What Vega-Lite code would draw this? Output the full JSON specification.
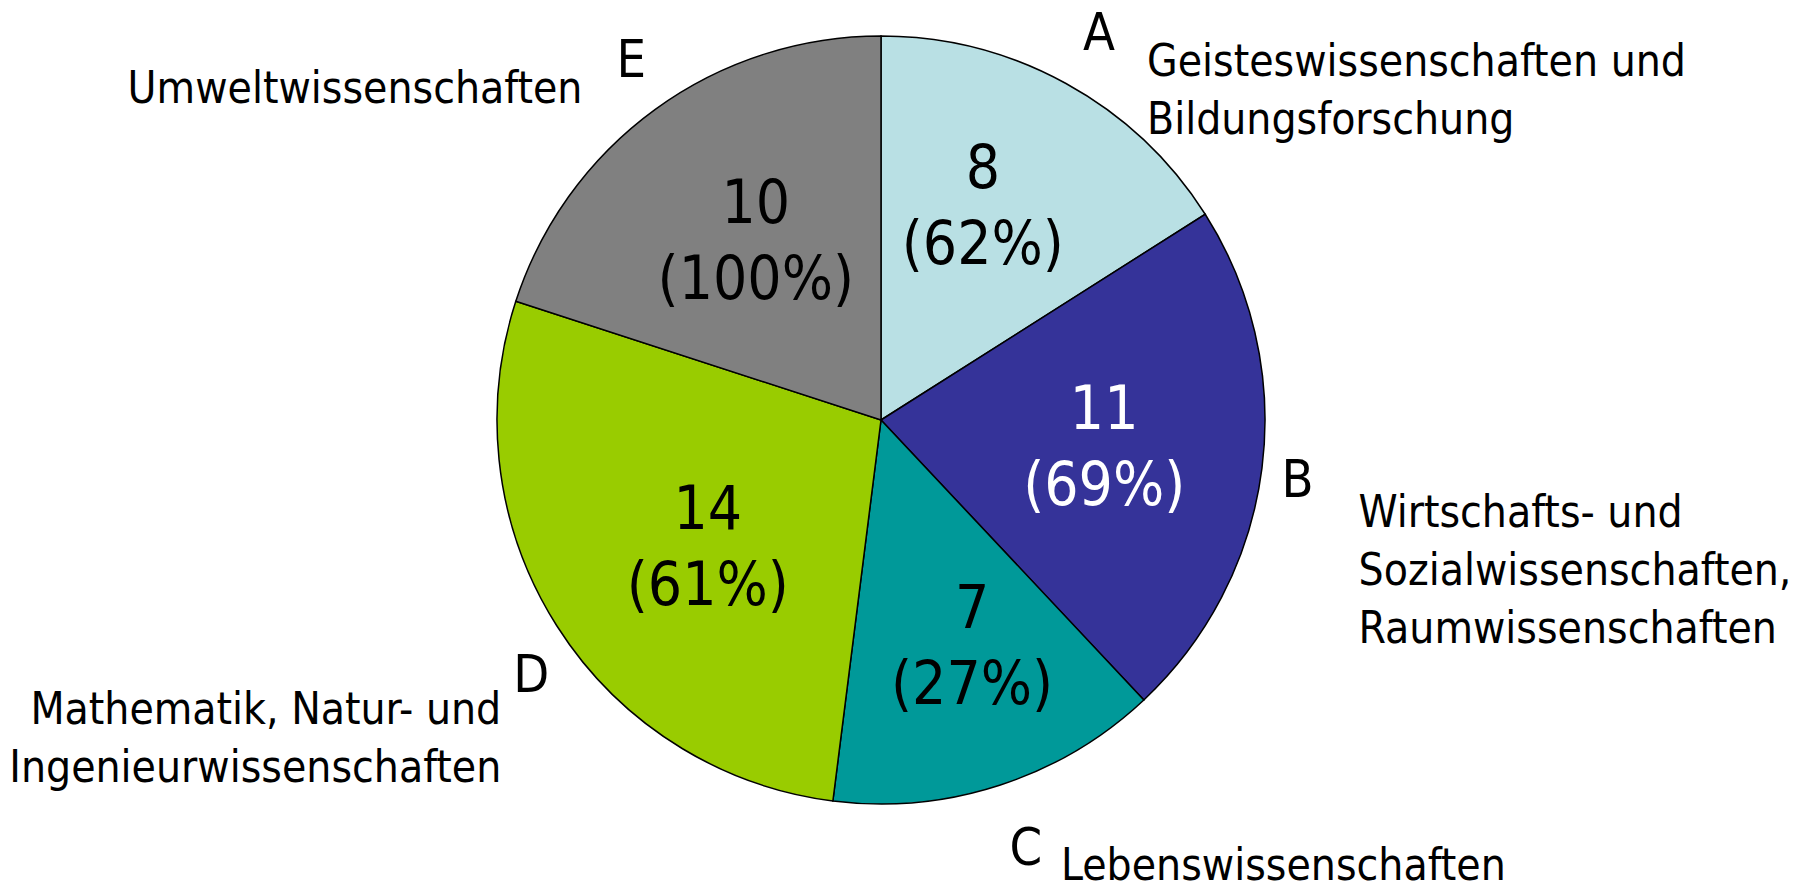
{
  "$schema": "https://vega.github.io/schema/vega-lite/v6.json",
  "autosize": {"type": "none"},
  "width": 1762,
  "height": 840,
  "padding": {"left": 0, "top": 0, "right": 41, "bottom": 51},
  "background": "white",
  "config": {"view": {"stroke": null}, "text": {"font": "DejaVu Sans Condensed, DejaVu Sans, sans-serif", "color": "black"}},
  "data": {"values": [
    {"cat": "A", "n": 8, "pct": "(62%)", "name": "Geisteswissenschaften und|Bildungsforschung"},
    {"cat": "B", "n": 11, "pct": "(69%)", "name": "Wirtschafts- und|Sozialwissenschaften,|Raumwissenschaften"},
    {"cat": "C", "n": 7, "pct": "(27%)", "name": "Lebenswissenschaften"},
    {"cat": "D", "n": 14, "pct": "(61%)", "name": "Mathematik, Natur- und|Ingenieurwissenschaften"},
    {"cat": "E", "n": 10, "pct": "(100%)", "name": "Umweltwissenschaften"}
  ]},
  "encoding": {
    "theta": {"field": "n", "type": "quantitative", "stack": true},
    "order": {"field": "cat", "type": "nominal", "sort": "ascending"},
    "detail": {"field": "cat", "type": "nominal"}
  },
  "layer": [
    {
      "mark": {"type": "arc", "outerRadius": 384, "stroke": "black", "strokeWidth": 1.5},
      "encoding": {
        "color": {"field": "cat", "type": "nominal", "legend": null,
          "scale": {"domain": ["A", "B", "C", "D", "E"], "range": ["#B9E0E4", "#353399", "#009999", "#99CC00", "#808080"]}}
      }
    },
    {"mark": {"type": "text", "radius": 230, "dx": -9, "dy": -48, "fontSize": 60},
     "encoding": {"text": {"condition": {"test": "datum.cat === 'A'", "field": "n", "type": "quantitative"}, "value": ""}}},
    {"mark": {"type": "text", "radius": 230, "dx": -9, "dy": 28, "fontSize": 60},
     "encoding": {"text": {"condition": {"test": "datum.cat === 'A'", "field": "pct"}, "value": ""}}},
    {"mark": {"type": "text", "radius": 230, "dx": -5, "dy": -38, "fontSize": 60, "color": "white"},
     "encoding": {"text": {"condition": {"test": "datum.cat === 'B'", "field": "n", "type": "quantitative"}, "value": ""}}},
    {"mark": {"type": "text", "radius": 230, "dx": -5, "dy": 38, "fontSize": 60, "color": "white"},
     "encoding": {"text": {"condition": {"test": "datum.cat === 'B'", "field": "pct"}, "value": ""}}},
    {"mark": {"type": "text", "radius": 230, "dx": 20, "dy": -29, "fontSize": 60},
     "encoding": {"text": {"condition": {"test": "datum.cat === 'C'", "field": "n", "type": "quantitative"}, "value": ""}}},
    {"mark": {"type": "text", "radius": 230, "dx": 20, "dy": 47, "fontSize": 60},
     "encoding": {"text": {"condition": {"test": "datum.cat === 'C'", "field": "pct"}, "value": ""}}},
    {"mark": {"type": "text", "radius": 230, "dx": 21, "dy": -32, "fontSize": 60},
     "encoding": {"text": {"condition": {"test": "datum.cat === 'D'", "field": "n", "type": "quantitative"}, "value": ""}}},
    {"mark": {"type": "text", "radius": 230, "dx": 21, "dy": 44, "fontSize": 60},
     "encoding": {"text": {"condition": {"test": "datum.cat === 'D'", "field": "pct"}, "value": ""}}},
    {"mark": {"type": "text", "radius": 230, "dx": 10, "dy": -29, "fontSize": 60},
     "encoding": {"text": {"condition": {"test": "datum.cat === 'E'", "field": "n", "type": "quantitative"}, "value": ""}}},
    {"mark": {"type": "text", "radius": 230, "dx": 10, "dy": 47, "fontSize": 60},
     "encoding": {"text": {"condition": {"test": "datum.cat === 'E'", "field": "pct"}, "value": ""}}},
    {"mark": {"type": "text", "radius": 440, "dx": 6, "dy": 0, "fontSize": 52},
     "encoding": {"text": {"condition": {"test": "datum.cat === 'A'", "field": "cat"}, "value": ""}}},
    {"mark": {"type": "text", "radius": 440, "dx": -20, "dy": 6, "fontSize": 52},
     "encoding": {"text": {"condition": {"test": "datum.cat === 'B'", "field": "cat"}, "value": ""}}},
    {"mark": {"type": "text", "radius": 440, "dx": 9, "dy": 11, "fontSize": 52},
     "encoding": {"text": {"condition": {"test": "datum.cat === 'C'", "field": "cat"}, "value": ""}}},
    {"mark": {"type": "text", "radius": 432, "dx": 15, "dy": 25, "fontSize": 52},
     "encoding": {"text": {"condition": {"test": "datum.cat === 'D'", "field": "cat"}, "value": ""}}},
    {"mark": {"type": "text", "radius": 440, "dx": 9, "dy": -3, "fontSize": 52},
     "encoding": {"text": {"condition": {"test": "datum.cat === 'E'", "field": "cat"}, "value": ""}}},
    {"mark": {"type": "text", "radius": 440, "dx": 54, "dy": 42, "fontSize": 44, "lineHeight": 58, "lineBreak": "|", "align": "left", "baseline": "alphabetic"},
     "encoding": {"text": {"condition": {"test": "datum.cat === 'A'", "field": "name"}, "value": ""}}},
    {"mark": {"type": "text", "radius": 440, "dx": 41, "dy": 52, "fontSize": 44, "lineHeight": 58, "lineBreak": "|", "align": "left", "baseline": "alphabetic"},
     "encoding": {"text": {"condition": {"test": "datum.cat === 'B'", "field": "name"}, "value": ""}}},
    {"mark": {"type": "text", "radius": 440, "dx": 44, "dy": 42, "fontSize": 44, "lineHeight": 58, "lineBreak": "|", "align": "left", "baseline": "alphabetic"},
     "encoding": {"text": {"condition": {"test": "datum.cat === 'C'", "field": "name"}, "value": ""}}},
    {"mark": {"type": "text", "radius": 432, "dx": -15, "dy": 73, "fontSize": 44, "lineHeight": 58, "lineBreak": "|", "align": "right", "baseline": "alphabetic"},
     "encoding": {"text": {"condition": {"test": "datum.cat === 'D'", "field": "name"}, "value": ""}}},
    {"mark": {"type": "text", "radius": 440, "dx": -40, "dy": 39, "fontSize": 44, "lineHeight": 58, "lineBreak": "|", "align": "right", "baseline": "alphabetic"},
     "encoding": {"text": {"condition": {"test": "datum.cat === 'E'", "field": "name"}, "value": ""}}}
  ]
}
